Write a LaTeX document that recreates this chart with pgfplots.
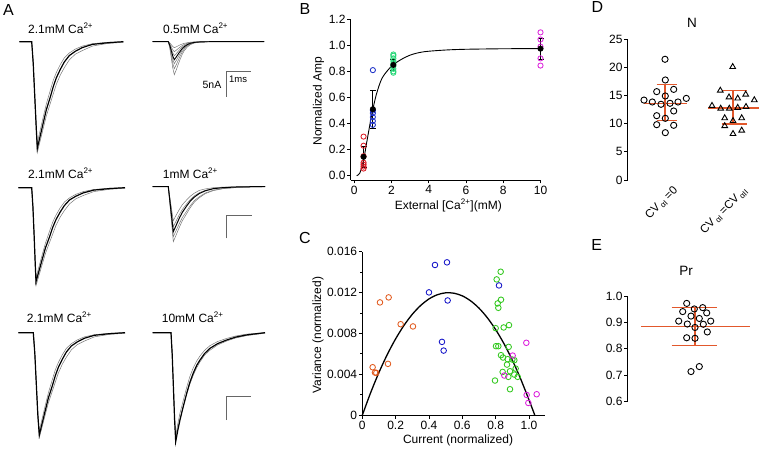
\documentclass[border=0pt]{standalone}
\usepackage{fontspec}
\setmainfont{Liberation Sans}
\usepackage{pgfplots}
\usepackage{pgfplotstable}
\pgfplotsset{compat=1.18}

\definecolor{bR}{RGB}{220,30,40}
\definecolor{bB}{RGB}{30,50,200}
\definecolor{bG}{RGB}{40,215,120}
\definecolor{bM}{RGB}{220,40,220}
\definecolor{cO}{RGB}{225,90,30}
\definecolor{cB}{RGB}{20,20,200}
\definecolor{cG}{RGB}{50,200,30}
\definecolor{cM}{RGB}{220,30,220}
\definecolor{mOr}{RGB}{226,88,44}
\definecolor{trg}{RGB}{120,120,120}

\newcommand{\tickfont}{\fontsize{12}{14}\selectfont}
\newcommand{\labfont}{\fontsize{12}{14}\selectfont}
\newcommand{\letfont}{\fontsize{16}{18}\selectfont}

\pgfplotsset{
  panel/.style={
    scale only axis, clip=false,
    axis line style={line width=0.9pt},
    tick style={black, line width=0.9pt},
    tick align=outside,
    major tick length=3.5pt, minor tick length=2pt,
    tick label style={font=\tickfont},
    yticklabel style={inner sep=1.5pt},
    xticklabel style={inner sep=2pt},
    label style={font=\labfont},
    /pgf/number format/assume math mode=true,
    axis x line*=bottom, axis y line*=left,
  },
  gtr/.style={trg, line width=0.5pt},
  ktr/.style={black, line width=1.2pt},
  sbar/.style={black!60, line width=0.7pt},
  oc/.style={only marks, mark=o, mark size=2.6pt, mark options={line width=0.85pt}},
}

% ---------- Panel A traces (picture coordinates, px) ----------
\pgfplotstableread{
x k a b
19.3 41.7 41.7 41.7
31.7 41.7 41.7 41.7
33.2 63.0 63.9 62.0
34.7 95.0 97.1 92.3
36.2 127.0 130.4 122.7
37.3 148.3 152.6 143.0
40.3 135.5 140.4 129.8
43.3 122.7 128.2 116.7
46.3 109.9 116.0 104.1
50.3 97.1 103.4 90.3
53.3 86.5 93.8 80.2
56.3 77.9 84.4 72.6
60.3 69.4 75.0 64.5
64.3 62.0 67.7 57.9
69.3 55.6 59.9 53.0
75.3 51.3 54.2 49.1
82.3 47.6 50.6 46.1
92.3 44.4 46.1 43.7
107.3 42.8 43.5 42.3
123.3 41.7 42.3 41.7
}\tAone

\pgfplotstableread{
x p1 p2 p3 k p5 p6 p7
152.7 41.7 41.7 41.7 41.7 41.7 41.7 41.7
168.3 41.7 41.7 41.7 41.7 41.7 41.7 41.7
169.8 48.3 47.1 46.1 45.3 44.5 43.7 42.9
171.3 58.2 55.2 52.7 50.7 48.7 46.7 44.7
172.8 68.1 63.3 59.3 56.1 52.9 49.7 46.5
174.3 74.7 68.7 63.7 59.7 55.7 51.7 47.7
176.3 69.8 64.7 60.4 57.0 53.6 50.2 46.8
178.3 64.1 60.1 56.7 53.9 51.2 48.5 45.8
180.3 58.9 55.7 53.1 51.1 49.0 46.9 44.8
182.3 54.2 52.0 50.1 48.5 47.0 45.5 44.0
184.3 50.6 49.0 47.6 46.6 45.5 44.4 43.3
187.3 47.0 46.0 45.2 44.6 43.9 43.3 42.7
190.3 44.7 44.1 43.7 43.3 43.0 42.6 42.2
194.3 43.0 42.8 42.6 42.4 42.3 42.1 41.9
200.3 42.0 42.0 41.9 41.9 41.8 41.8 41.8
209.3 41.7 41.7 41.7 41.7 41.7 41.7 41.7
264 41.7 41.7 41.7 41.7 41.7 41.7 41.7
}\tAtwo

\pgfplotstableread{
x k a b
18.3 187.7 187.7 187.7
31.7 187.7 187.7 187.7
32.9 206.5 207.3 205.7
34.1 234.7 236.7 232.7
35.2 262.9 266.1 259.7
36 281.7 285.7 277.7
39.15 270.4 274.9 266.0
42.3 259.1 264.1 254.3
45.45 247.9 253.4 243.1
49.65 236.6 242.2 230.9
52.8 227.2 233.8 221.9
55.95 219.7 225.4 215.2
60.15 212.1 217.1 207.9
64.35 205.6 210.6 202.1
69.6 199.9 203.8 197.8
75.9 196.2 198.8 194.3
83.25 192.9 195.5 191.6
93.75 190.1 191.6 189.5
109.5 188.6 189.3 188.2
125 187.7 188.2 187.7
}\tAthree

\pgfplotstableread{
x s1 s2 k s4 s5
152.7 186.7 186.7 186.7 186.7 186.7
168.3 186.7 186.7 186.7 186.7 186.7
169.3 197.7 196.7 195.7 194.7 193.5
170.8 214.2 211.7 209.2 206.7 203.7
172.3 230.7 226.7 222.7 218.7 213.9
173.3 241.7 236.7 231.7 226.7 220.7
176.3 234.6 230.2 225.0 220.7 214.9
179.3 227.4 223.7 218.2 214.7 209.5
182.3 220.8 217.7 212.4 209.5 204.7
186.3 214.2 211.7 206.5 204.3 200.3
190.3 207.6 205.7 201.1 199.5 196.2
194.3 202.1 200.7 197.1 195.9 193.2
199.3 197.7 196.7 193.5 192.7 190.4
205.3 193.6 193.0 190.8 190.3 188.9
213.3 190.6 190.2 188.7 188.5 187.7
223.3 188.6 188.5 187.6 187.5 187.1
238.3 187.4 187.3 186.9 186.9 186.8
253.3 186.9 186.9 186.7 186.7 186.7
265 186.7 186.7 186.7 186.7 186.7
}\tAfour

\pgfplotstableread{
x k a b
18.3 332.7 332.7 332.7
33.3 332.7 332.7 332.7
34.8 353.2 353.7 352.3
36.3 383.9 385.2 381.7
37.8 414.5 416.7 411.1
39.3 435.0 437.7 430.7
42.3 422.7 426.2 418.0
45.3 410.4 414.6 405.2
48.3 398.2 403.1 393.1
52.3 385.9 391.1 379.7
55.3 375.7 382.1 369.9
58.3 367.5 373.1 362.6
62.3 359.3 364.2 354.8
66.3 352.1 357.3 348.4
71.3 346.0 349.9 343.7
77.3 341.9 344.6 339.9
84.3 338.3 341.1 336.9
94.3 335.3 336.9 334.7
109.3 333.7 334.4 333.3
125 332.7 333.2 332.7
}\tAfive

\pgfplotstableread{
x k a b
152.7 332.7 332.7 332.7
171 332.7 332.7 332.7
172.2 354.5 354.0 353.3
173.4 387.2 385.7 384.2
174.6 419.9 417.5 415.1
175.7 441.7 438.7 435.7
177.7 430.8 428.6 424.4
180.0 419.9 418.6 413.0
183.2 406.8 406.9 400.7
186.7 393.3 394.2 387.3
189.7 382.8 384.6 377.0
193.3 373.0 375.1 367.7
196.7 365.4 367.7 361.0
200.0 360.0 361.9 355.9
204.7 353.4 355.0 350.2
210.0 348.3 350.2 345.6
217.7 343.6 344.9 341.5
226.7 340.0 341.0 338.4
235.7 337.1 338.0 336.0
246.7 334.9 335.6 334.1
265 332.7 333.2 332.7
}\tAsix

% ---------- Panel B means ----------
\pgfplotstableread{
x y e
0.5 0.145 0.08
1.0 0.51 0.145
2.1 0.85 0.04
10 0.975 0.08
}\tBmean

\begin{document}
\begin{tikzpicture}

% ================= Panel A =================
\begin{axis}[at={(0pt,0pt)}, anchor=south west, scale only axis, width=300pt, height=449pt,
  xmin=0, xmax=300, ymin=0, ymax=449, y dir=reverse, hide axis, clip=false]
  % top left 2.1 mM
  \addplot[gtr] table[x=x,y=a] {\tAone};
  \addplot[gtr] table[x=x,y=b] {\tAone};
  \addplot[ktr] table[x=x,y=k] {\tAone};
  % top right 0.5 mM
  \addplot[gtr] table[x=x,y=p1] {\tAtwo};
  \addplot[gtr] table[x=x,y=p2] {\tAtwo};
  \addplot[gtr] table[x=x,y=p3] {\tAtwo};
  \addplot[gtr] table[x=x,y=p5] {\tAtwo};
  \addplot[gtr] table[x=x,y=p6] {\tAtwo};
  \addplot[gtr] table[x=x,y=p7] {\tAtwo};
  \addplot[black, line width=0.9pt] table[x=x,y=k] {\tAtwo};
  % middle left 2.1 mM
  \addplot[gtr] table[x=x,y=a] {\tAthree};
  \addplot[gtr] table[x=x,y=b] {\tAthree};
  \addplot[ktr] table[x=x,y=k] {\tAthree};
  % middle right 1 mM
  \addplot[gtr] table[x=x,y=s1] {\tAfour};
  \addplot[gtr] table[x=x,y=s2] {\tAfour};
  \addplot[gtr] table[x=x,y=s4] {\tAfour};
  \addplot[gtr] table[x=x,y=s5] {\tAfour};
  \addplot[black, line width=1pt] table[x=x,y=k] {\tAfour};
  % bottom left 2.1 mM
  \addplot[gtr] table[x=x,y=a] {\tAfive};
  \addplot[gtr] table[x=x,y=b] {\tAfive};
  \addplot[ktr] table[x=x,y=k] {\tAfive};
  % bottom right 10 mM
  \addplot[gtr] table[x=x,y=a] {\tAsix};
  \addplot[gtr] table[x=x,y=b] {\tAsix};
  \addplot[ktr] table[x=x,y=k] {\tAsix};
  % scale bars (5 nA, 1 ms)
  \addplot[sbar] coordinates {(226.7,96.7) (226.7,71.7) (250.7,71.7)};
  \addplot[sbar] coordinates {(226.7,238.3) (226.7,215) (251.7,215)};
  \addplot[sbar] coordinates {(226,420) (226,396.7) (251,396.7)};
  % texts
  \node[anchor=west, font=\labfont, inner sep=0pt] at (axis cs:28,28.3) {2.1mM Ca\textsuperscript{2+}};
  \node[anchor=west, font=\labfont, inner sep=0pt] at (axis cs:163,28.3) {0.5mM Ca\textsuperscript{2+}};
  \node[anchor=west, font=\labfont, inner sep=0pt] at (axis cs:28,173.3) {2.1mM Ca\textsuperscript{2+}};
  \node[anchor=west, font=\labfont, inner sep=0pt] at (axis cs:162.7,173.3) {1mM Ca\textsuperscript{2+}};
  \node[anchor=west, font=\labfont, inner sep=0pt] at (axis cs:26.7,317.3) {2.1mM Ca\textsuperscript{2+}};
  \node[anchor=west, font=\labfont, inner sep=0pt] at (axis cs:161.7,317.3) {10mM Ca\textsuperscript{2+}};
  \node[anchor=east, font=\fontsize{10.5}{12}\selectfont, inner sep=0pt] at (axis cs:221.5,85) {5nA};
  \node[anchor=west, font=\fontsize{9.5}{11}\selectfont, inner sep=0pt] at (axis cs:229,79.5) {1ms};
\end{axis}

% ================= Panel B =================
\begin{axis}[panel, at={(350.7pt,269pt)}, anchor=south west, width=189.8pt, height=160.7pt,
  xmin=-0.19, xmax=10, ymin=-0.033, ymax=1.2,
  xtick={0,2,4,6,8,10}, ytick={0,0.2,0.4,0.6,0.8,1.0,1.2},
  yticklabel style={/pgf/number format/fixed, /pgf/number format/fixed zerofill, /pgf/number format/precision=1},
  xlabel={External [Ca\textsuperscript{2+}](mM)}, ylabel={Normalized Amp},
  xlabel style={at={(axis description cs:0.514,-0.158)}, anchor=center},
  ylabel style={at={(axis description cs:-0.17,0.49)}, anchor=center}]
  \addplot[oc, bR] coordinates {(0.5,0.30) (0.5,0.23) (0.5,0.15) (0.5,0.10) (0.5,0.085) (0.5,0.07) (0.5,0.055)};
  \addplot[oc, bB] coordinates {(1,0.81) (1,0.50) (1,0.48) (1,0.45) (1,0.42) (1,0.39)};
  \addplot[oc, bG] coordinates {(2.1,0.93) (2.1,0.92) (2.1,0.90) (2.1,0.88) (2.1,0.86) (2.1,0.84) (2.1,0.82) (2.1,0.80) (2.1,0.79)};
  \addplot[oc, bM] coordinates {(10,1.10) (10,1.045) (10,0.99) (10,0.90) (10,0.845)};
  \addplot[black, line width=0.9pt, smooth] coordinates {(0.13,0) (0.3,0.02) (0.5,0.12) (0.7,0.28) (0.9,0.44) (1.0,0.51) (1.2,0.63) (1.5,0.75) (2.0,0.84) (2.5,0.89) (3,0.925) (3.5,0.945) (4,0.955) (5,0.965) (6,0.97) (8,0.974) (10,0.975)};
  \addplot[only marks, mark=*, mark size=2.8pt, black,
    error bars/.cd, y dir=both, y explicit,
    error bar style={line width=0.9pt, black},
    error mark options={rotate=90, mark size=3pt, line width=0.9pt, black}]
    table[x=x, y=y, y error=e] {\tBmean};
\end{axis}

% ================= Panel C =================
\begin{axis}[panel, at={(362.3pt,33.7pt)}, anchor=south west, width=182.7pt, height=163.6pt,
  xmin=0, xmax=1.096, ymin=0, ymax=0.016,
  xtick={0,0.2,0.4,0.6,0.8,1.0}, xticklabels={0,0.2,0.4,0.6,0.8,1.0},
  ytick={0,0.004,0.008,0.012,0.016}, yticklabels={0,0.004,0.008,0.012,0.016},
  minor ytick={0.002,0.006,0.010,0.014},
  scaled x ticks=false, scaled y ticks=false,
  xlabel={Current (normalized)}, ylabel={Variance (normalized)},
  xlabel style={at={(axis description cs:0.524,-0.155)}, anchor=center},
  ylabel style={at={(axis description cs:-0.243,0.49)}, anchor=center}]
  \addplot[black, line width=1.3pt, smooth] coordinates {(0,0) (0.05,0.00221) (0.1,0.00419) (0.15,0.00595) (0.2,0.00748) (0.25,0.00879) (0.3,0.00988) (0.35,0.01074) (0.4,0.01138) (0.45,0.01179) (0.5,0.01198) (0.55,0.01194) (0.6,0.01168) (0.65,0.01119) (0.7,0.01048) (0.75,0.00954) (0.8,0.00838) (0.85,0.0070) (0.9,0.00539) (0.95,0.00356) (1.0,0.0015) (1.035,0)};
  \addplot[oc, cO, mark size=2.8pt] coordinates {(0.106,0.01104) (0.158,0.01153) (0.23,0.00891) (0.304,0.00869) (0.154,0.00503) (0.062,0.0047) (0.076,0.00418) (0.084,0.00415)};
  \addplot[oc, cB, mark size=2.8pt] coordinates {(0.436,0.0147) (0.508,0.01496) (0.4,0.01202) (0.512,0.01123) (0.478,0.00718) (0.488,0.00633) (0.82,0.0127)};
  \addplot[oc, cG, mark size=2.8pt] coordinates {(0.806,0.01329) (0.83,0.01404) (0.832,0.0113) (0.812,0.01094) (0.816,0.01051) (0.8,0.00852) (0.848,0.00859) (0.88,0.00882) (0.802,0.00676) (0.816,0.00676) (0.878,0.00669) (0.832,0.00588) (0.844,0.00565) (0.872,0.00549) (0.9,0.00545) (0.912,0.00539) (0.868,0.00496) (0.92,0.00457) (0.842,0.00424) (0.886,0.00431) (0.912,0.00398) (0.876,0.00376) (0.932,0.00376) (0.796,0.0034) (0.886,0.00255)};
  \addplot[oc, cM, mark size=2.8pt] coordinates {(0.984,0.00709) (0.902,0.00584) (0.852,0.00389) (0.986,0.00199) (1.046,0.00206) (0.996,0.00121)};
\end{axis}

% ================= Panel D =================
\begin{axis}[panel, axis x line=none, at={(627.7pt,269pt)}, anchor=south west, width=132.3pt, height=140.7pt,
  xmin=627.7, xmax=760, ymin=0, ymax=25, ytick={0,5,10,15,20,25}]
  \addplot[only marks, mark=o, mark size=3.1pt, black, mark options={line width=0.9pt}] coordinates {(665,21.45) (665.3,17.77) (656.7,15.7) (665.3,14.93) (673.7,16.1) (644,14.2) (652.3,13.86) (661,13.45) (670,13.63) (678,13.86) (686.3,14.5) (673.7,12.26) (656.7,11.43) (665.3,10.96) (656.7,9.83) (673.7,9.72) (665.3,8.41)};
  \addplot[only marks, mark=triangle, mark size=3.3pt, black, mark options={line width=0.9pt}] coordinates {(732.7,20.1) (720.3,15.9) (729,14.7) (737.7,14.5) (745.7,15.2) (754.3,14.2) (712,13.2) (720.7,12.7) (729.3,12.7) (737.7,12.85) (746,13.0) (724.7,11.0) (741.7,11.0) (733,10.5) (724.7,9.6) (733,8.2) (741.7,8.8)};
  % mean and SD
  \addplot[mOr, line width=1.1pt] coordinates {(643.5,13.6) (686.5,13.6)};
  \addplot[mOr, line width=1.1pt] coordinates {(665,10.5) (665,16.9)};
  \addplot[mOr, line width=1.1pt] coordinates {(656.7,16.9) (676.7,16.9)};
  \addplot[mOr, line width=1.1pt] coordinates {(656.7,10.5) (676.7,10.5)};
  \addplot[mOr, line width=1.1pt] coordinates {(708.3,12.8) (758.5,12.8)};
  \addplot[mOr, line width=1.1pt] coordinates {(733,9.95) (733,15.9)};
  \addplot[mOr, line width=1.1pt] coordinates {(721.7,15.9) (746.7,15.9)};
  \addplot[mOr, line width=1.1pt] coordinates {(721.7,9.95) (746.7,9.95)};
  \node[rotate=45, anchor=east, font=\fontsize{11.5}{13}\selectfont, inner sep=0pt] at (axis cs:676,-1.6) {CV\,\textsubscript{αI}\,=0};
  \node[rotate=45, anchor=east, font=\fontsize{11.5}{13}\selectfont, inner sep=0pt] at (axis cs:746,-1.6) {CV\,\textsubscript{αI}\,=CV\,\textsubscript{αII}};
\end{axis}

% ================= Panel E =================
\begin{axis}[panel, axis x line=none, at={(627.7pt,47.3pt)}, anchor=south west, width=132.3pt, height=105.7pt,
  xmin=627.7, xmax=760, ymin=0.6, ymax=1.0, ytick={0.6,0.7,0.8,0.9,1.0},
  yticklabel style={/pgf/number format/fixed, /pgf/number format/fixed zerofill, /pgf/number format/precision=1}]
  \addplot[only marks, mark=o, mark size=3.1pt, black, mark options={line width=0.9pt}] coordinates {(686.7,0.972) (694.3,0.951) (702.7,0.956) (682.7,0.941) (706.7,0.936) (691,0.924) (699.3,0.915) (678.7,0.905) (687.3,0.894) (695,0.881) (703.3,0.893) (710.7,0.905) (707.3,0.864) (695,0.84) (686.7,0.842) (691,0.714) (699.3,0.733)};
  \addplot[mOr, line width=1.1pt] coordinates {(641,0.884) (750,0.884)};
  \addplot[mOr, line width=1.1pt] coordinates {(695,0.812) (695,0.955)};
  \addplot[mOr, line width=1.1pt] coordinates {(671.7,0.955) (716.7,0.955)};
  \addplot[mOr, line width=1.1pt] coordinates {(671.7,0.812) (716.7,0.812)};
\end{axis}

% ================= Letters and titles =================
\node[font=\letfont] at (8.5pt,439pt) {A};
\node[font=\letfont] at (305pt,439.5pt) {B};
\node[font=\letfont] at (305pt,211pt) {C};
\node[font=\letfont] at (597.5pt,441.5pt) {D};
\node[font=\letfont] at (596.7pt,204pt) {E};
\node[font=\fontsize{13.5}{15}\selectfont] at (692pt,426pt) {N};
\node[font=\fontsize{13.5}{15}\selectfont] at (686pt,178pt) {Pr};

\pgfresetboundingbox
\path (0pt,0pt) rectangle (760pt,449pt);
\end{tikzpicture}
\end{document}
